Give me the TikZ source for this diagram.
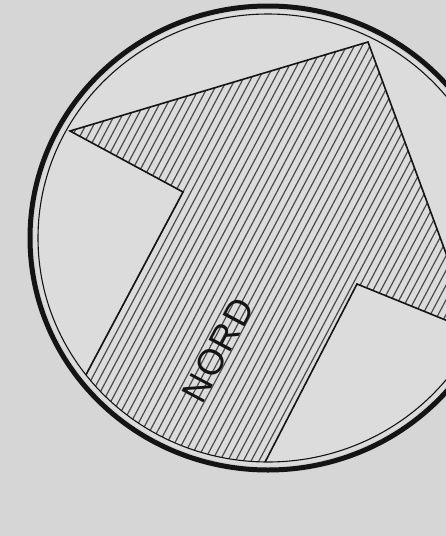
\documentclass[tikz,border=0pt]{standalone}
\usepackage{fontspec}
\setmainfont{Liberation Sans}
\definecolor{paper}{RGB}{214,214,214}
\definecolor{disk}{RGB}{220,220,220}
\definecolor{ink}{RGB}{20,20,20}
\definecolor{hatchc}{RGB}{75,75,75}
\tikzset{
  ringthick/.style={draw=ink, line width=5pt},
  ringthin/.style={draw=ink, line width=1.1pt},
  arrowedge/.style={draw=ink, line width=1.6pt, line join=miter},
  hatchline/.style={draw=hatchc, line width=1.2pt},
  nordtext/.style={text=ink, font=\fontsize{36}{36}\selectfont, inner sep=0pt}
}
\begin{document}
\begin{tikzpicture}[x=1pt,y=-1pt]
\useasboundingbox (0,0) rectangle (446,536);
\fill[paper] (0,0) rectangle (446,536);
% ring centre
\coordinate (C) at (268,238);
\fill[disk] (C) ellipse [x radius=234, y radius=228];
% arrow corners
\coordinate (T) at (368,42);
\coordinate (L) at (70,131);
\coordinate (LI) at (183,192);
\coordinate (LB) at (46,450);
\coordinate (RI) at (357,284);
\coordinate (RB) at (231,528);
\coordinate (RW) at (475,332);
\begin{scope}
  \clip (C) ellipse [x radius=230, y radius=224];
  \begin{scope}
    \clip (L) -- (T) -- (RW) -- (RI) -- (RB) -- (LB) -- (LI) -- cycle;
    \foreach \k in {-45,...,45} {
      \draw[hatchline] ({268+\k*6.9*0.883-0.469*700},{238+\k*6.9*0.469+0.883*700}) -- ++({0.469*1400},{-0.883*1400});
    }
  \end{scope}
  \draw[arrowedge] (LB) -- (LI) -- (L) -- (T) -- (RW) -- (RI) -- (RB);
\end{scope}
\draw[ringthin] (C) ellipse [x radius=230, y radius=224];
\draw[ringthick] (C) ellipse [x radius=238, y radius=232];
\node[nordtext, rotate=62] (nord) at (218,350) {N\kern2pt O\kern2pt R\kern2pt D};
\end{tikzpicture}
\end{document}
